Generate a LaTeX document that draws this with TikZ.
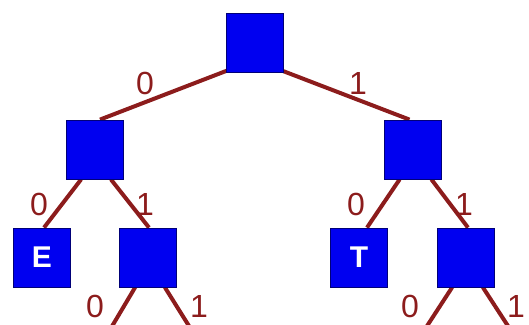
\documentclass[tikz,border=0pt]{standalone}
\usepackage{fontspec}
\setmainfont{Liberation Sans}
\usetikzlibrary{backgrounds}
\definecolor{edgered}{RGB}{140,28,28}
\definecolor{boxblue}{RGB}{0,0,240}
\definecolor{boxline}{RGB}{0,0,120}
\tikzset{
  box/.style={draw=boxline, line width=0.8pt, fill=boxblue, minimum width=57pt, minimum height=59pt, inner sep=0pt,
    text=white, font=\fontsize{30}{30}\selectfont\bfseries},
  edge/.style={draw=edgered, line width=4pt},
  lbl/.style={text=edgered, font=\fontsize{32}{32}\selectfont, inner sep=0pt}
}
\begin{document}
\begin{tikzpicture}[x=1pt,y=-1pt]
\useasboundingbox (0,0) rectangle (529,324);
\node[box] (root) at (254.5,42.5) {};
\node[box] (lc) at (95,149.5) {};
\node[box] (rc) at (412.5,149.5) {};
\node[box] (e) at (42,257.5) {E};
\node[box] (lr) at (148,257.5) {};
\node[box] (t) at (359,257.5) {T};
\node[box] (rr) at (466,257.5) {};
\coordinate (a1) at (111,328);
\coordinate (a2) at (189,326);
\coordinate (b1) at (427,326);
\coordinate (b2) at (508,326);
\begin{scope}[on background layer]
\draw[edge] ([xshift=2pt,yshift=2pt]root.south west) -- ([xshift=5pt]lc.north);
\draw[edge] ([xshift=-2pt,yshift=2pt]root.south east) -- ([xshift=-3pt]rc.north);
\draw[edge] ([xshift=15pt]lc.south west) -- ([xshift=2pt]e.north);
\draw[edge] ([xshift=-13pt]lc.south east) -- ([xshift=1pt]lr.north);
\draw[edge] ([xshift=16pt]rc.south west) -- ([xshift=8pt]t.north);
\draw[edge] ([xshift=-10pt]rc.south east) -- ([xshift=2pt]rr.north);
\draw[edge] ([xshift=16pt]lr.south west) -- (a1);
\draw[edge] ([xshift=-12pt]lr.south east) -- (a2);
\draw[edge] ([xshift=15pt]rr.south west) -- (b1);
\draw[edge] ([xshift=-12pt]rr.south east) -- (b2);
\end{scope}
\node[lbl] (l1) at (145,83) {0};
\node[lbl] (l2) at (358,83) {1};
\node[lbl] (l3) at (39,204) {0};
\node[lbl] (l4) at (145,204) {1};
\node[lbl] (l5) at (356,204) {0};
\node[lbl] (l6) at (464,204) {1};
\node[lbl] (l7) at (95,306) {0};
\node[lbl] (l8) at (199,306) {1};
\node[lbl] (l9) at (410,306) {0};
\node[lbl] (l10) at (516,306) {1};
\end{tikzpicture}
\end{document}
